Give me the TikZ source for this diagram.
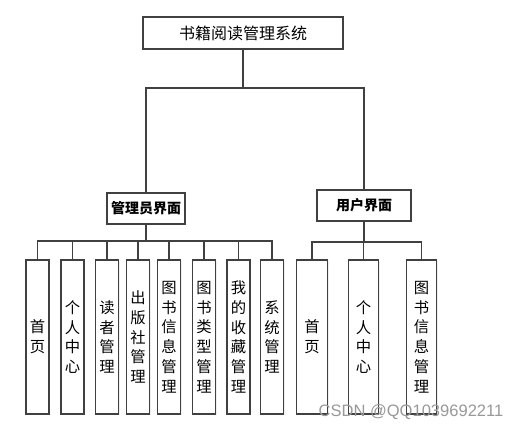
\documentclass[tikz,border=0pt]{standalone}
\usepackage{fontspec}
\newfontfamily\cjk{Noto Sans CJK SC}
\newfontfamily\wmfont{Liberation Sans}
\usetikzlibrary{positioning,shadows}

\begin{document}
\begin{tikzpicture}[x=0.75pt,y=-0.75pt,font=\cjk]
\tikzstyle{box}=[draw=black!75,line width=0.9pt,fill=white,inner sep=0pt,
  drop shadow={shadow xshift=1pt,shadow yshift=-1pt,opacity=0.12}]
\tikzstyle{lvl}=[box,minimum height=23.25pt,font=\cjk\bfseries\fontsize{10.5}{12}\selectfont]
\tikzstyle{leaf}=[box,minimum height=115.5pt,align=center,font=\cjk\fontsize{11.5}{14.8}\selectfont]
\tikzstyle{link}=[draw=black!75,line width=0.9pt]
\useasboundingbox[fill=white] (0,0) rectangle (525,431);
% top level
\node[box,minimum width=150pt,minimum height=24pt,font=\cjk\fontsize{12}{14}\selectfont] (root) at (243,33) {书籍阅读管理系统};
\node[lvl,minimum width=58.5pt] (admin) at (146,208.5) {管理员界面};
\node[lvl,minimum width=70.5pt] (user) at (364,205.5) {用户界面};
\coordinate (rj) at (243,88);
\draw[link] (root.south) -- (rj);
\draw[link] (admin.north) |- (rj) -| (user.north);
% admin side
\node[leaf,minimum width=17.25pt] (a1) at (37.5,337) {首\\页};
\node[leaf,minimum width=17.25pt] (a2) at (72.5,337) {个\\人\\中\\心};
\node[leaf,minimum width=17.25pt] (a3) at (107,337) {读\\者\\管\\理};
\node[leaf,minimum width=17.25pt] (a4) at (138,337) {出\\版\\社\\管\\理};
\node[leaf,minimum width=17.25pt] (a5) at (169,337) {图\\书\\信\\息\\管\\理};
\node[leaf,minimum width=17.25pt] (a6) at (204,337) {图\\书\\类\\型\\管\\理};
\node[leaf,minimum width=17.25pt] (a7) at (238.5,337) {我\\的\\收\\藏\\管\\理};
\node[leaf,minimum width=17.25pt] (a8) at (272,337) {系\\统\\管\\理};
\coordinate (aj) at (146,241);
\draw[link] (admin.south) -- (aj);
\foreach \i in {1,...,8}
  \draw[link] (aj) -| (a\i.north);
% user side
\node[leaf,minimum width=22.9pt] (u1) at (312,337) {首\\页};
\node[leaf,minimum width=22.9pt] (u2) at (363.5,337) {个\\人\\中\\心};
\node[leaf,minimum width=22.9pt] (u3) at (421.5,337) {图\\书\\信\\息\\管\\理};
\coordinate (uj) at (364,242);
\draw[link] (user.south) -- (uj);
\foreach \i in {1,2,3}
  \draw[link] (uj) -| (u\i.north);
% watermark
\node[font=\wmfont\fontsize{12.4}{14}\selectfont,text=black!40] (wm) at (411,412) {CSDN @QQ1039692211};
\end{tikzpicture}
\end{document}
